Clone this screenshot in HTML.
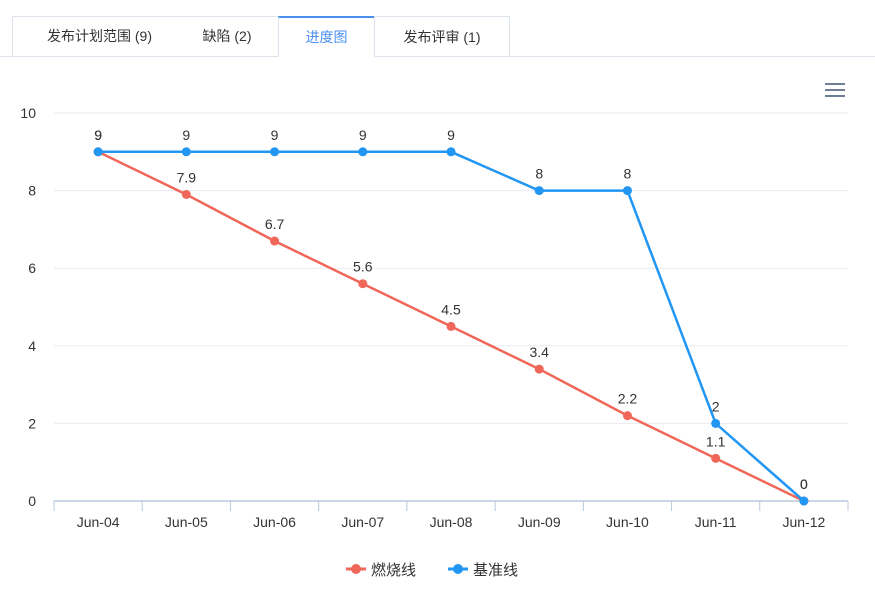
<!DOCTYPE html>
<html><head><meta charset="utf-8"><style>
body{margin:0;width:875px;height:606px;background:#fff;font-family:"Liberation Sans","Noto Sans CJK SC",sans-serif;overflow:hidden;position:relative}
.tabline{position:absolute;left:0;top:56px;width:875px;height:1px;background:#dde3ec}
.tab{position:absolute;top:16px;height:40px;line-height:40px;font-size:14px;color:#333;text-align:center;box-sizing:border-box}
</style></head><body>
<div class="tabline"></div>
<div class="tab" style="left:12px;width:267px;border:1px solid #dde3ec;border-bottom:none"></div>
<div class="tab" style="left:12px;width:175px">发布计划范围 (9)</div>
<div class="tab" style="left:176px;width:102px">缺陷 (2)</div>
<div class="tab" style="left:278px;width:97px;border:1px solid #dde3ec;border-top:2px solid #4a8ff0;border-bottom:1px solid #fff;color:#4a8ff0;height:41px;line-height:38px">进度图</div>
<div class="tab" style="left:374px;width:136px;border:1px solid #dde3ec;border-bottom:none">发布评审 (1)</div>
<svg id="chart" width="875" height="606" style="position:absolute;left:0;top:0">
<g stroke="#6e7e99" stroke-width="2">
<line x1="825" y1="84" x2="845" y2="84"/><line x1="825" y1="90" x2="845" y2="90"/><line x1="825" y1="96" x2="845" y2="96"/>
</g>
</svg>
<script>
const categories=["Jun-04","Jun-05","Jun-06","Jun-07","Jun-08","Jun-09","Jun-10","Jun-11","Jun-12"];
const burnValues=[9,7.9,6.7,5.6,4.5,3.4,2.2,1.1,0];
const baseValues=[9,9,9,9,9,8,8,2,0];
const yTicks=[0,2,4,6,8,10];
const seriesNames=["燃烧线","基准线"];
const NS="http://www.w3.org/2000/svg";
const svg=document.getElementById('chart');
const x0=54,x1=848,y0=501,y1=113,yMax=10;
const bw=(x1-x0)/categories.length;
const X=i=>x0+bw*(i+0.5);
const Y=v=>y0-(v/yMax)*(y0-y1);
function mk(t,a,p){const e=document.createElementNS(NS,t);for(const k in a)e.setAttribute(k,a[k]);(p||svg).appendChild(e);return e;}
yTicks.forEach(v=>{
 if(v>0){const g=mk('line',{x1:x0,x2:x1,y1:Y(v),y2:Y(v),stroke:'#e8ecf2','stroke-width':1});
 
 }
 const t=mk('text',{x:36,y:Y(v)+5,'text-anchor':'end','font-size':14,fill:'#333'});t.textContent=v;
 
 
});
const ax=mk('line',{x1:x0,x2:x1,y1:y0,y2:y0,stroke:'#b8c8dc','stroke-width':1.5});


for(let i=0;i<=categories.length;i++){const tk=mk('line',{x1:x0+bw*i,x2:x0+bw*i,y1:y0,y2:y0+10,stroke:'#b8c8dc'});
 
 }
categories.forEach((c,i)=>{const t=mk('text',{x:X(i),y:527,'text-anchor':'middle','font-size':14,fill:'#333'});t.textContent=c;
 
 });
function series(vals,color,name,offsets){
 const g=mk('g',{});
 
 
 mk('polyline',{points:vals.map((v,i)=>X(i)+','+Y(v)).join(' '),fill:'none',stroke:color,'stroke-width':2.5},g);
 vals.forEach((v,i)=>{const c=mk('circle',{cx:X(i),cy:Y(v),r:4.5,fill:color},g);
  
  
  const t=mk('text',{x:X(i),y:Y(v)-12,'text-anchor':'middle','font-size':14,fill:'#333'},g);t.textContent=v;
  
  });
}
series(burnValues.map(v=>v),'#f0675a','burn-line-series');
series(baseValues,'#2196f3','baseline-series');
const colors=['#f0675a','#2196f3'];const lx=[346,448];
seriesNames.forEach((n,i)=>{const g=mk('g',{});
 
 
 mk('line',{x1:lx[i],x2:lx[i]+20,y1:569,y2:569,stroke:colors[i],'stroke-width':3},g);
 mk('circle',{cx:lx[i]+10,cy:569,r:5,fill:colors[i]},g);
 const t=mk('text',{x:lx[i]+25,y:575,'font-size':15,fill:'#333'},g);t.textContent=n;});
</script>
</body></html>
